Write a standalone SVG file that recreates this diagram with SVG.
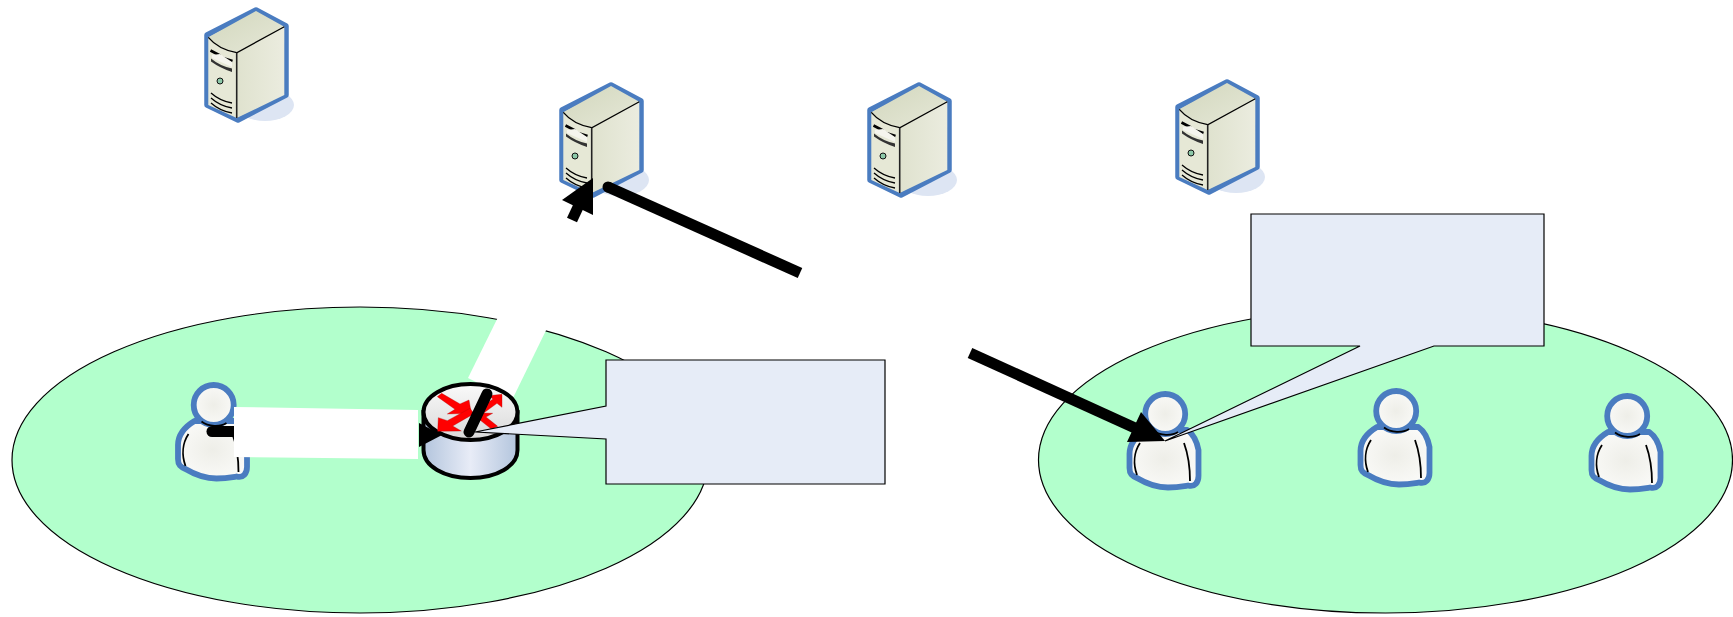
<svg xmlns="http://www.w3.org/2000/svg" width="1733" height="617" viewBox="0 0 1733 617">
<style>
.zone{fill:#b2ffcc;stroke:#000;stroke-width:1.2}
.band{fill:#fff}
.callout{fill:#e6ecf7;stroke:#000;stroke-width:1.2}
.wire{stroke:#000;stroke-width:11;fill:none}
.head{fill:#000}
.ol{stroke:#4a7cc0;stroke-linejoin:round}
.thin{stroke:#000;stroke-width:1.3;fill:none}
.red{fill:#f00;stroke:#a00;stroke-width:1}
</style>
<defs>
<linearGradient id="srvTop" x1="0" y1="0" x2="1" y2="1"><stop offset="0" stop-color="#d2d7bd"/><stop offset="1" stop-color="#e6e8d8"/></linearGradient>
<linearGradient id="srvSide" x1="0" y1="0" x2="1" y2="0"><stop offset="0" stop-color="#dfe2ce"/><stop offset="1" stop-color="#ebecdf"/></linearGradient>
<radialGradient id="skin" cx=".5" cy=".5" r=".6"><stop offset="0" stop-color="#eeeee8"/><stop offset="1" stop-color="#fbfbf9"/></radialGradient>
<linearGradient id="rtrSide" x1="0" y1="0" x2="1" y2="0"><stop offset="0" stop-color="#b3c5dd"/><stop offset=".5" stop-color="#e8ecf7"/><stop offset="1" stop-color="#b3c5dd"/></linearGradient>
<linearGradient id="rtrTop" x1="0" y1="0" x2="0" y2="1"><stop offset="0" stop-color="#fafafa"/><stop offset="1" stop-color="#d8d8d8"/></linearGradient>
<g id="server">
<ellipse cx="59" cy="97" rx="29" ry="16" fill="#dde5f3"/>
<path class="ol" stroke-width="5.500" d="M1 27L50 2L80 18V87L32 112L1 97Z" fill="#e4e6d4"/>
<path d="M2.300 29.300L50 3L78.300 18.700L30.700 44.700Q12 41 2.300 29.300Z" fill="url(#srvTop)"/>
<path d="M2.300 29.300Q12 41 30.700 44.700V110L2.300 97Z" fill="#e6e8d6"/>
<path d="M30.700 44.700L78.300 18.700V87L30.700 110Z" fill="url(#srvSide)"/>
<path class="thin" d="M2.300 29.300Q12 41 30.700 44.700L78.300 18.700"/>
<path d="M30.700 44.700V110" stroke="#222" stroke-width="1.600" fill="none"/>
<path d="M4.500 42.500L14 47.500M17 50L26.500 53" stroke="#000" stroke-width="2.600" fill="none"/>
<path d="M6 47L14 46L26 54V59L6 50Z" fill="#f5f5ee"/>
<path d="M5 50.500Q14 58 26 60.500V64Q14 60 5 53.500Z" fill="#333"/>
<circle cx="14" cy="73" r="3" fill="#8cc8a8" stroke="#111" stroke-width="1"/>
<path d="M5 85Q14 93 26 95M5 90Q14 98 26 100M5 95Q14 103 26 105" stroke="#000" stroke-width="1.300" fill="none"/>
</g>
<g id="person">
<path class="ol" stroke-width="5.800" d="M19 38C9 44 2.500 52 2.500 62V76C2.500 82 5 84 10 86C20 92 30 95.500 41 95.500C50 95.500 55 94.500 61 93.500C68 95.500 71.500 90 71.500 84V58C70 50 66 42 60.300 38Z" fill="url(#skin)"/>
<path class="thin" style="stroke-width:1.800" d="M13 51C7 60 6 72 10 83M57 51C61 62 63 75 63 89"/>
<circle class="ol" stroke-width="5.800" cx="38.200" cy="22" r="20" fill="url(#skin)"/>
<path class="thin" style="stroke-width:1.800" d="M26 38.500C33 44 45 44 51 40"/>
</g>
</defs>

<g id="zone-left"><ellipse class="zone" cx="360" cy="460" rx="348" ry="153"/></g>
<g id="zone-right"><ellipse class="zone" cx="1385.500" cy="460" rx="347" ry="153"/></g>

<g id="server-1"><use href="#server" x="206" y="8"/></g>
<g id="server-2"><use href="#server" x="561" y="83"/></g>
<g id="server-3"><use href="#server" x="869" y="83"/></g>
<g id="server-4"><use href="#server" x="1177" y="80"/></g>

<g id="user-1"><use href="#person" x="175.500" y="383"/></g>
<g id="user-2"><use href="#person" x="1127" y="392"/></g>
<g id="user-3"><use href="#person" x="1358" y="389"/></g>
<g id="user-4"><use href="#person" x="1589" y="394"/></g>

<g id="connectors">
<path class="wire" stroke-linecap="round" d="M212 431.500H236"/>
<polygon class="band" points="234,407 418,410 418,459 234,457"/>
<polygon class="band" points="505,303 554,314 512,400 468,378"/>
</g>

<g id="router">
<path d="M423.500 412V450C423.500 466 444 478 470.500 478C497 478 517.500 466 517.500 450V412Z" fill="url(#rtrSide)" stroke="#000" stroke-width="4"/>
<ellipse cx="470.500" cy="412" rx="47" ry="28" fill="url(#rtrTop)" stroke="#000" stroke-width="4"/>
<g transform="translate(400 300) scale(.3333)">
<polygon class="red" points="112,290 125,280 180,312 207,300 214,340 142,342 165,328"/>
<polygon class="red" points="113,394 115,353 142,362 210,325 222,341 158,378 184,393"/>
<polygon class="red" points="306,283 306,322 291,310 247,342 233,329 279,297 265,287"/>
<polygon class="red" points="213,338 278,340 258,351 293,379 275,388 240,360 224,373"/>
</g>
</g>

<g id="connectors-front">
<path class="wire" stroke-linecap="round" d="M469 432L487 394"/>
<polygon class="head" points="419,423 442,435 419,447"/>
<circle class="head" cx="608" cy="187" r="5.500"/>
<path class="wire" d="M608 187L800 273"/>
<path class="wire" d="M572 220L579 205"/>
<polygon class="head" points="593,178 593,215 562,200"/>
<path class="wire" d="M970 353L1135 428"/>
<polygon class="head" points="1141,412 1165,441 1127,442"/>
</g>

<g id="callout-1"><path class="callout" d="M606 360H885V484H606V439L475 432L606 406Z"/></g>
<g id="callout-2"><path class="callout" d="M1251 214H1544V346H1434L1165 441L1360 346H1251Z"/></g>
</svg>
